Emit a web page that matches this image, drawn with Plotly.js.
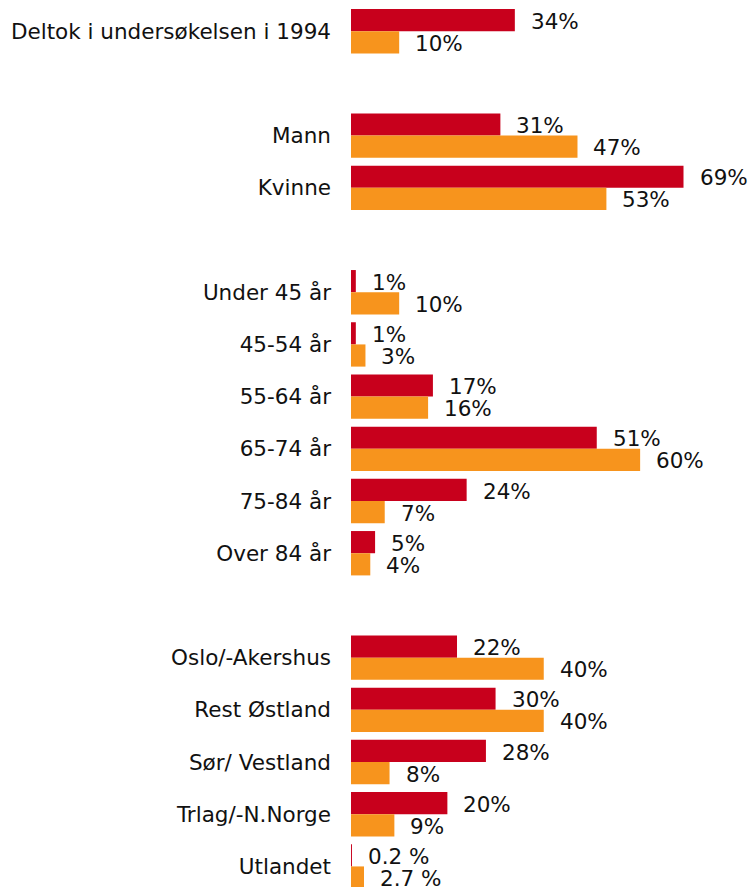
<!DOCTYPE html>
<html>
<head>
<meta charset="utf-8">
<script src="https://cdn.plot.ly/plotly-3.0.1.min.js"></script>
<style>html,body{margin:0;padding:0;background:#fff;}#chart{width:750px;height:887px;}</style>
</head>
<body>
<div id="chart"></div>
<script>
// Categories (top to bottom)
const categories = [
  "Deltok i undersøkelsen i 1994",
  "Mann", "Kvinne",
  "Under 45 år", "45-54 år", "55-64 år", "65-74 år", "75-84 år", "Over 84 år",
  "Oslo/-Akershus", "Rest Østland", "Sør/ Vestland", "Trlag/-N.Norge", "Utlandet"
];
// Category order on the axis, with blank spacer rows between groups
const categoryOrder = [
  "Deltok i undersøkelsen i 1994", " ",
  "Mann", "Kvinne", "  ",
  "Under 45 år", "45-54 år", "55-64 år", "65-74 år", "75-84 år", "Over 84 år", "   ",
  "Oslo/-Akershus", "Rest Østland", "Sør/ Vestland", "Trlag/-N.Norge", "Utlandet"
];
// Series values (%)
const redValues    = [34, 31, 69, 1, 1, 17, 51, 24, 5, 22, 30, 28, 20, 0.2];
const orangeValues = [10, 47, 53, 10, 3, 16, 60, 7, 4, 40, 40, 8, 9, 2.7];
// Value labels
const redLabels    = ["34%", "31%", "69%", "1%", "1%", "17%", "51%", "24%", "5%", "22%", "30%", "28%", "20%", "0.2 %"];
const orangeLabels = ["10%", "47%", "53%", "10%", "3%", "16%", "60%", "7%", "4%", "40%", "40%", "8%", "9%", "2.7 %"];

const RED = "#C8001C";
const ORANGE = "#F7941D";
const FONT = "DejaVu Sans, Verdana, sans-serif";
const FS = 21.5;

const traces = [
  {type: "bar", orientation: "h", y: categories, x: redValues,
   marker: {color: RED}, hoverinfo: "skip"},
  {type: "bar", orientation: "h", y: categories, x: orangeValues,
   marker: {color: ORANGE}, hoverinfo: "skip"}
];

const annotations = [];
categories.forEach((c, i) => {
  annotations.push({x: redValues[i], y: c, xref: "x", yref: "y", text: redLabels[i],
    showarrow: false, xanchor: "left", yanchor: "middle", xshift: 15, yshift: 10,
    borderpad: 0, font: {family: FONT, size: FS, color: "#111"}});
  annotations.push({x: orangeValues[i], y: c, xref: "x", yref: "y", text: orangeLabels[i],
    showarrow: false, xanchor: "left", yanchor: "middle", xshift: 15, yshift: -12,
    borderpad: 0, font: {family: FONT, size: FS, color: "#111"}});
});

const layout = {
  width: 750, height: 887,
  margin: {l: 351, r: 0, t: 0, b: 0, pad: 0},
  paper_bgcolor: "#fff", plot_bgcolor: "#fff",
  barmode: "group", bargap: 0.15, bargroupgap: 0,
  showlegend: false,
  xaxis: {range: [0, 82.8], visible: false, fixedrange: true},
  yaxis: {type: "category", categoryorder: "array", categoryarray: categoryOrder,
    range: [16.394, -0.598], showgrid: false, zeroline: false, showline: false,
    ticks: "", ticklabelstandoff: 19,
    tickfont: {family: FONT, size: FS, color: "#111"}, fixedrange: true},
  annotations: annotations,
  font: {family: FONT}
};

Plotly.newPlot("chart", traces, layout, {displayModeBar: false, staticPlot: true});
</script>
</body>
</html>
